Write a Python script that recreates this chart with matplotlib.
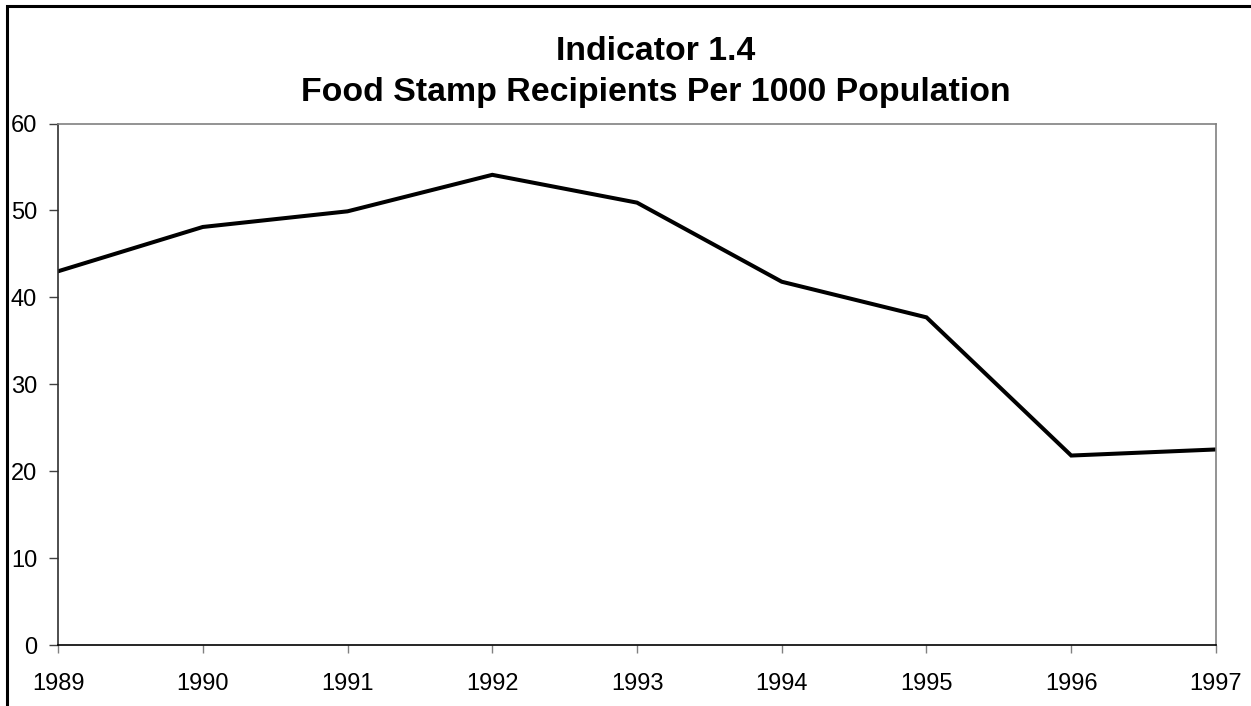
# -*- coding: utf-8 -*-

# FOOD STAMP RECIPIENTS - LINE CHART

import matplotlib.pyplot as plt
from matplotlib.patches import Rectangle

# Years
anos = [1989, 1990, 1991, 1992, 1993, 1994, 1995, 1996, 1997]

# Recipients per 1000 population
recipientes = [43.0, 48.1, 49.9, 54.1, 50.9, 41.8, 37.7, 21.8, 22.5]

# Y axis ticks
marcas_y = [0, 10, 20, 30, 40, 50, 60]

titulo1 = 'Indicator 1.4'
titulo2 = 'Food Stamp Recipients Per 1000 Population'

plt.rcParams['font.family'] = ['Liberation Sans', 'DejaVu Sans']

fig = plt.figure(figsize=(12.51, 7.06), dpi=100)
ax = fig.add_axes([0.0464, 0.0864, 0.9256, 0.7386])

# The line
ax.plot(anos, recipientes, color='black', linewidth=2.9,
        solid_joinstyle='miter')

# Axes limits and ticks
ax.set_xlim(anos[0], anos[-1])
ax.set_ylim(marcas_y[0], marcas_y[-1])
ax.set_xticks(anos)
ax.set_yticks(marcas_y)
ax.tick_params(axis='y', direction='out', length=6.5, width=1,
               color='#404040', pad=8.5, labelsize=17)
ax.tick_params(axis='x', direction='out', length=6, width=1,
               color='#808080', pad=14.5, labelsize=17)

# Spines: dark left/bottom, gray top/right
ax.spines['left'].set_color('#303030')
ax.spines['bottom'].set_color('black')
ax.spines['top'].set_color('#808080')
ax.spines['right'].set_color('#808080')
for s in ax.spines.values():
    s.set_linewidth(1.2)

# Title, two lines (centered on the chart area, which runs past the right edge)
fig.text(0.524, 1 - 60 / 706, titulo1, ha='center', va='baseline',
         fontsize=24.4, fontweight='bold')
fig.text(0.524, 1 - 101.5 / 706, titulo2, ha='center', va='baseline',
         fontsize=24.4, fontweight='bold')

# Outer border
borda = Rectangle((6.5 / 1251, -0.05), 1.1, 1.05 - 6 / 706,
                  transform=fig.transFigure, fill=False,
                  edgecolor='black', linewidth=2.2, clip_on=False)
fig.patches.append(borda)

fig.savefig('out.png', dpi=100)
